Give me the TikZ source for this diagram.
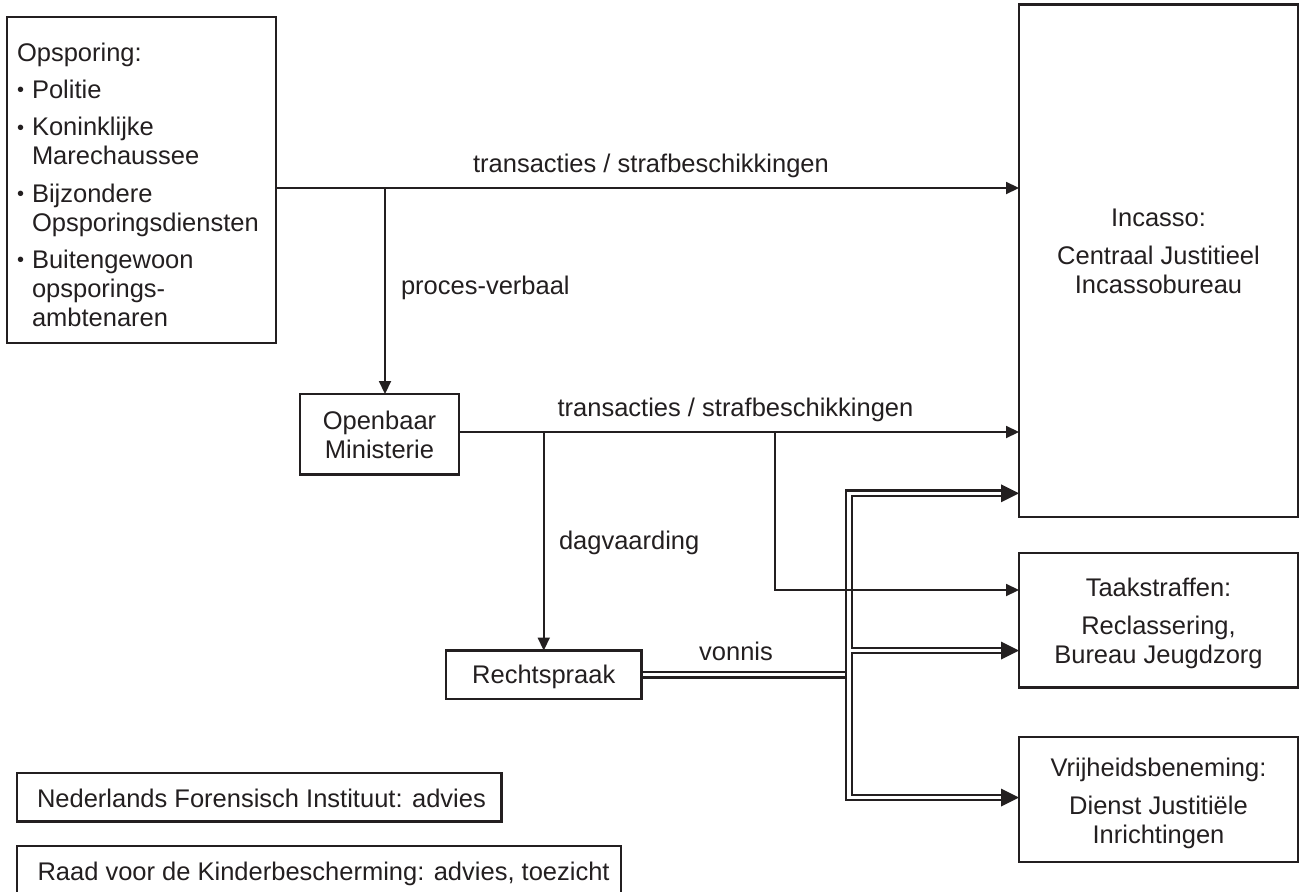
\documentclass[tikz,border=0pt]{standalone}
\usepackage{fontspec}
\setmainfont{Liberation Sans}
\usetikzlibrary{arrows.meta}
\definecolor{ink}{HTML}{231F20}
\newcommand\dfont{\fontsize{25.5}{29}\selectfont}
\newcommand\bul{\makebox[15pt][l]{\raisebox{1.6pt}{\fontsize{20}{20}\selectfont •}}}
\tikzset{
  box/.style={draw=ink, line width=2.4pt, inner sep=0pt, outer sep=0pt},
  txt/.style={inner sep=0pt, outer sep=0pt, text=ink, font=\dfont},
  conn/.style={draw=ink, line width=2.4pt, line join=miter, -{Triangle[length=13pt,width=12.5pt,line width=0pt]}},
  dblout/.style={draw=ink, line width=7.8pt, line join=miter},
  dblin/.style={draw=white, line width=3.4pt, line join=miter},
  dtip/.style={-{Triangle[length=18pt,width=18pt,line width=0pt]}},
  dtips/.style={{Triangle[length=18pt,width=18pt,line width=0pt]}-{Triangle[length=18pt,width=18pt,line width=0pt]}}
}
\begin{document}
\begin{tikzpicture}[x=1pt,y=-1pt]
\clip (0,0) rectangle (1303,891);
\fill[white] (0,0) rectangle (1303,891);

% boxes
\node[box, minimum width=269pt, minimum height=326pt] (opsp) at (141.5,180) {};
\node[box, minimum width=279pt, minimum height=512.5pt] (inc) at (1158.5,260.75) {};
\node[box, minimum width=279pt, minimum height=134.5pt] (taak) at (1158.5,620.25) {};
\node[box, minimum width=279pt, minimum height=125pt] (vrij) at (1158.5,799.5) {};
\node[box, minimum width=159pt, minimum height=80.5pt] (om) at (379.5,434.25) {};
\node[box, minimum width=195.5pt, minimum height=48.5pt] (rs) at (543.75,674.75) {};
\node[box, minimum width=484.5pt, minimum height=48.5pt] (nfi) at (259.25,797.25) {};
\node[box, minimum width=604pt, minimum height=48.5pt] (raad) at (319,870.25) {};

% box texts
\node[txt, anchor=north west, align=left] (opsptxt) at (17,42.7) {Opsporing:\\[8.3pt]
\bul Politie\\[8.3pt]
\bul Koninklijke\\
\hspace*{15pt}Marechaussee\\[8.3pt]
\bul Bijzondere\\
\hspace*{15pt}Opsporingsdiensten\\[8.3pt]
\bul Buitengewoon\\
\hspace*{15pt}opsporings-\\
\hspace*{15pt}ambtenaren};
\node[txt, anchor=north, align=center] (inctxt) at (1158.5,208.7) {Incasso:\\[9pt]Centraal Justitieel\\Incassobureau};
\node[txt, anchor=north, align=center] (taaktxt) at (1158.5,577.7) {Taakstraffen:\\[9pt]Reclassering,\\Bureau Jeugdzorg};
\node[txt, anchor=north, align=center] (vrijtxt) at (1158.5,757.7) {Vrijheidsbeneming:\\[9pt]Dienst Justitiële\\Inrichtingen};
\node[txt, anchor=north, align=center] (omtxt) at (379.5,410.7) {Openbaar\\Ministerie};
\node[txt, anchor=base] (rstxt) at (543.75,683) {Rechtspraak};
\node[txt, anchor=base west] (nfitxt) at (37,807) {Nederlands Forensisch Instituut: advies};
\node[txt, anchor=base west] (raadtxt) at (37.5,880) {Raad voor de Kinderbescherming: advies, toezicht};

% connector labels
\node[txt, anchor=base] (lab1) at (651,172) {transacties / strafbeschikkingen};
\node[txt, anchor=base] (lab2) at (735.5,416) {transacties / strafbeschikkingen};
\node[txt, anchor=base west] (labpv) at (401,294) {proces-verbaal};
\node[txt, anchor=base west] (labdag) at (559,549) {dagvaarding};
\node[txt, anchor=base] (labvon) at (736,660) {vonnis};

% helper coordinates
\coordinate (y1) at (0,188);
\coordinate (y2) at (0,432);
\coordinate (y3) at (0,590);
\coordinate (xpv) at (385,0);
\coordinate (xt) at (775,0);
\coordinate (xd) at (849,0);
\coordinate (xdl) at (845.5,0);
\coordinate (yd1) at (0,493.3);
\coordinate (yd2) at (0,650.5);
\coordinate (yd3) at (0,797.5);

% double connectors (vonnis)
\draw[dblout] (rs.east) -- (xdl |- rs.east);
\draw[dblin, shorten <=1.4pt] (rs.east) -- (xdl |- rs.east);
\draw[dblout, dtips] (inc.west |- yd1) -- (xd |- yd1) -- (xd |- yd3) -- (vrij.west |- yd3);
\draw[dblout, dtip] (xd |- yd2) -- (taak.west |- yd2);
\draw[dblin, shorten <=18pt, shorten >=18pt] (inc.west |- yd1) -- (xd |- yd1) -- (xd |- yd3) -- (vrij.west |- yd3);
\draw[dblin, shorten >=18pt] (xd |- yd2) -- (taak.west |- yd2);

% single connectors
\draw[conn] (opsp.east |- y1) -- (inc.west |- y1);
\draw[conn] (xpv |- y1) -- (xpv |- om.north);
\draw[conn] (om.east |- y2) -- (inc.west |- y2);
\draw[conn] (rs.north |- y2) -- (rs.north);
\draw[conn] (xt |- y2) -- (xt |- y3) -- (taak.west |- y3);
\end{tikzpicture}
\end{document}
